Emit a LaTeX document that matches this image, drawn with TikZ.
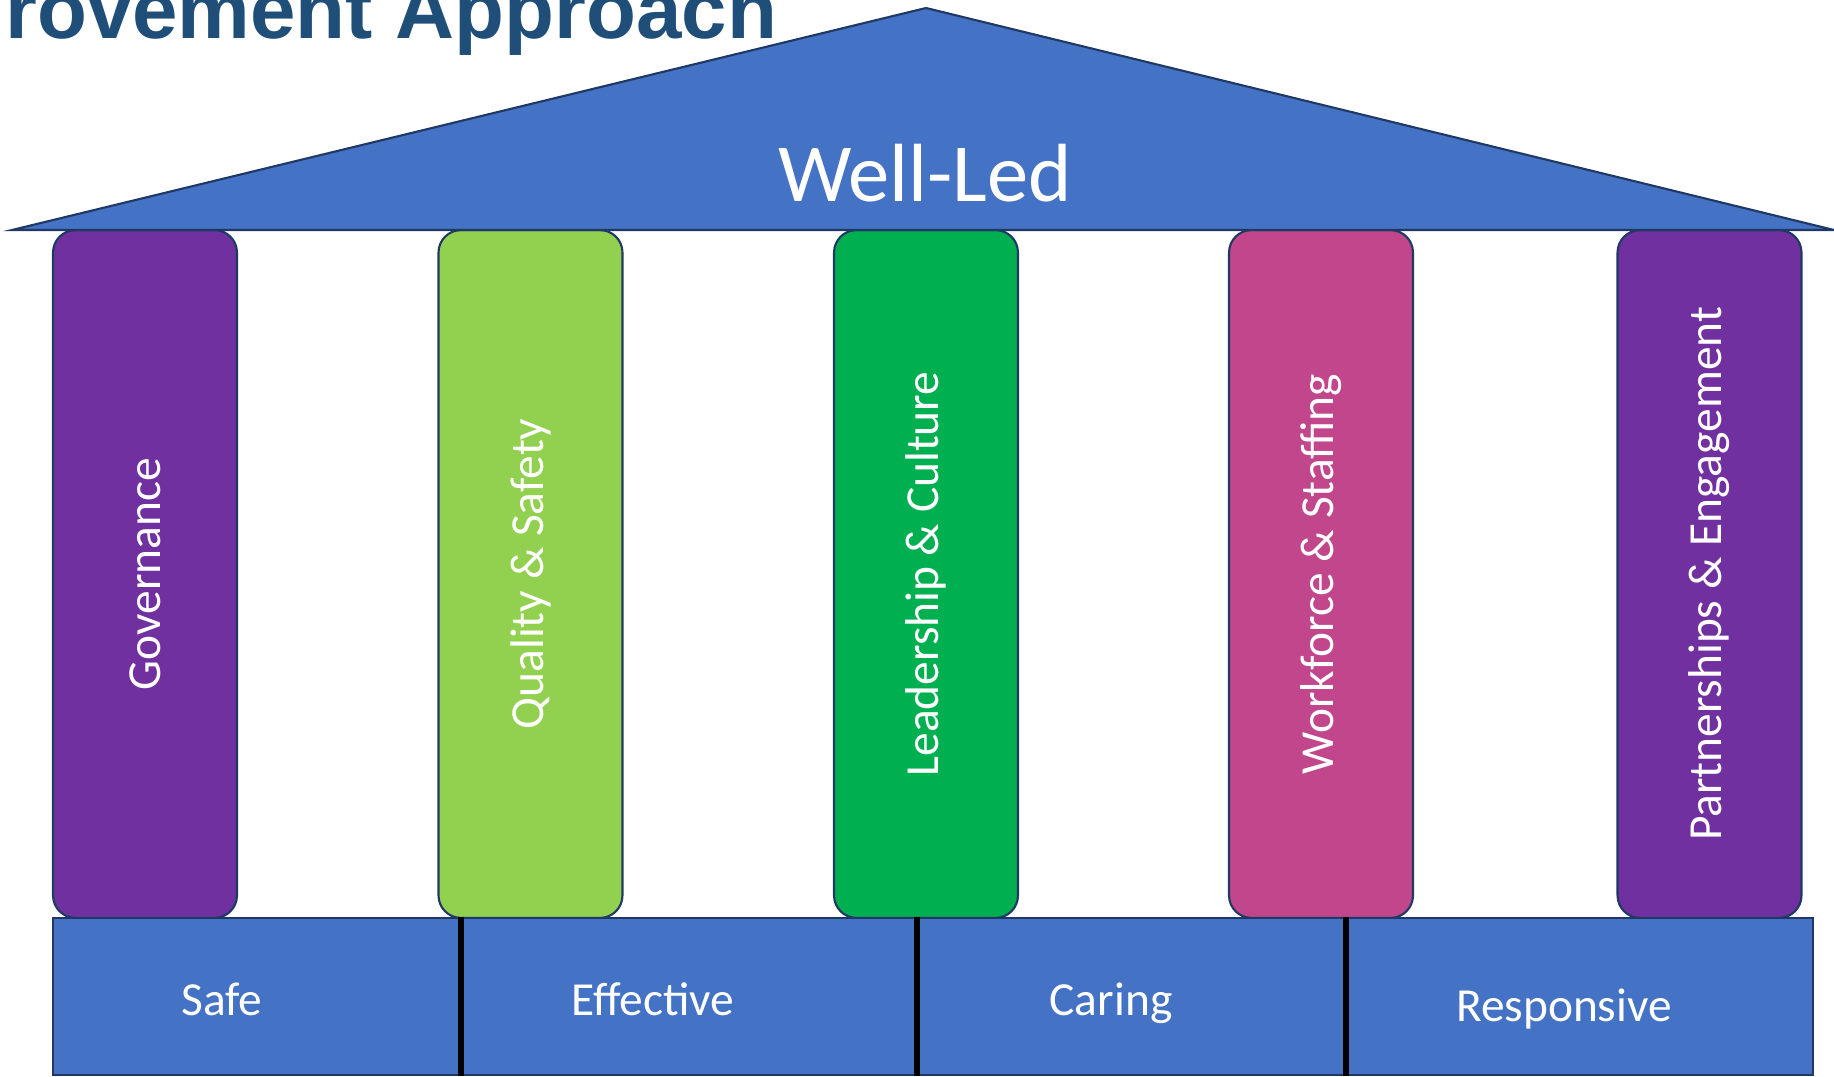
\documentclass[tikz,border=0pt]{standalone}
\usepackage{fontspec}
\setmainfont{Carlito}
\newfontfamily\titlefont{Liberation Sans}
\definecolor{roofblue}{HTML}{4472C4}
\definecolor{edgenavy}{HTML}{1F3864}
\definecolor{titleblue}{HTML}{1F4E79}
\definecolor{govpurple}{HTML}{7030A0}
\definecolor{qualgreen}{HTML}{92D050}
\definecolor{leadgreen}{HTML}{00B050}
\definecolor{workpink}{HTML}{C1468C}

\begin{document}
\begin{tikzpicture}[x=0.02cm,y=-0.02cm,
    pillar/.style={draw=edgenavy,line width=1.2pt,rounded corners=0.45cm,rotate=90,
        minimum width=13.76cm,minimum height=3.68cm,inner sep=0pt,
        text=white,font=\fontsize{27}{32}\selectfont},
    basebox/.style={draw=edgenavy,fill=roofblue,line width=1.2pt,
        minimum height=3.14cm,inner sep=0pt},
    basetext/.style={anchor=base,text=white,font=\fontsize{27}{32}\selectfont},
    divider/.style={line width=3.6pt,black}]
    \useasboundingbox (0,0) rectangle (1834,1077);

    \node[anchor=base west,inner sep=0pt,text=titleblue,
        font=\titlefont\bfseries\fontsize{46.5}{50}\selectfont] (title) at (5,39) {rovement Approach};

    \node[pillar,fill=govpurple] (gov) at (145,574) {Governance};
    \node[pillar,fill=qualgreen] (qual) at (530.5,574) {Quality \& Safety};
    \node[pillar,fill=leadgreen] (lead) at (926,574) {Leadership \& Culture};
    \node[pillar,fill=workpink] (work) at (1321,574) {Workforce \& Staffing};
    \node[pillar,fill=govpurple] (part) at (1709.5,574) {Partnerships \& Engagement};

    \coordinate (eaveL) at (12,230);
    \coordinate (ridge) at (926,8);
    \coordinate (eaveR) at (1834,230);
    \draw[fill=roofblue,draw=edgenavy,line width=1.2pt] (eaveL) -- (ridge) -- (eaveR) -- cycle;
    \node[anchor=base,text=white,font=\fontsize{47}{56}\selectfont] (welled) at (925,202) {Well-Led};

    \node[basebox,minimum width=8.14cm] (safe) at (256.5,996.5) {};
    \node[basebox,minimum width=9.12cm] (eff) at (688,996.5) {};
    \node[basebox,minimum width=8.58cm] (caring) at (1130.5,996.5) {};
    \node[basebox,minimum width=9.36cm] (resp) at (1579,996.5) {};

    \draw[divider] (safe.north east) -- (safe.south east);
    \draw[divider] (eff.north east) -- (eff.south east);
    \draw[divider] (caring.north east) -- (caring.south east);

    \node[basetext] (safetext) at (222,1015) {Safe};
    \node[basetext] (efftext) at (653,1015) {Effective};
    \node[basetext] (caringtext) at (1111,1015) {Caring};
    \node[basetext] (resptext) at (1564,1021) {Responsive};
\end{tikzpicture}
\end{document}
